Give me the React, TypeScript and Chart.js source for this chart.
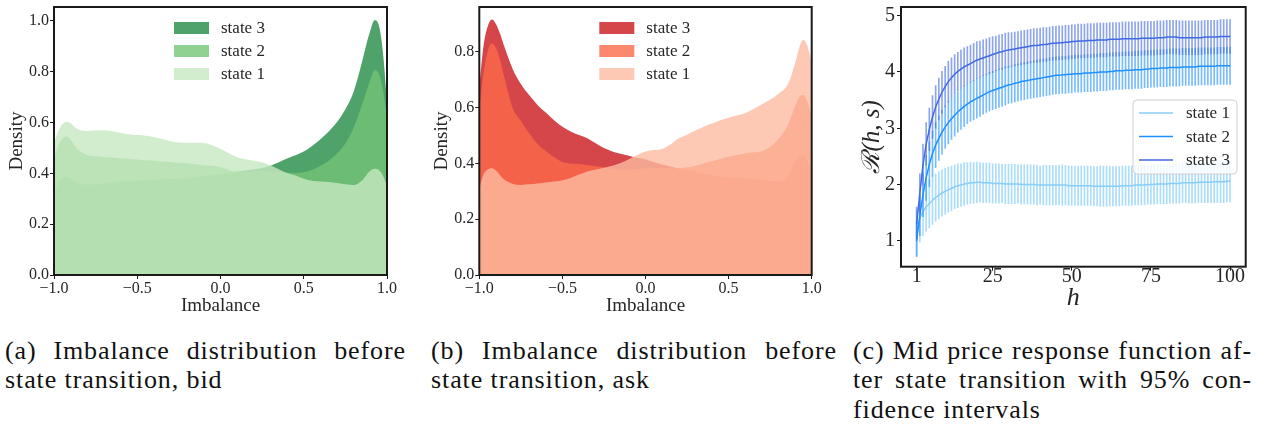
import React, { useEffect, useRef } from 'react';
import { Chart, registerables } from 'chart.js';

Chart.register(...registerables);

const FONT = "'Liberation Serif', 'DejaVu Serif', serif";
const TEXT = '#262626';

// ---------- Panels (a) and (b): imbalance densities ----------
const imbalanceX = [
  -1, -0.975, -0.95, -0.925, -0.9, -0.875, -0.85, -0.8, -0.75, -0.7, -0.65, -0.6, -0.55, -0.5,
  -0.45, -0.4, -0.35, -0.3, -0.25, -0.2, -0.15, -0.1, -0.05, 0, 0.05, 0.1, 0.15, 0.2, 0.25, 0.3,
  0.35, 0.4, 0.45, 0.5, 0.55, 0.6, 0.65, 0.7, 0.75, 0.8, 0.85, 0.875, 0.9, 0.925, 0.95, 0.975, 1,
];

const bidState1 = [
  0.52, 0.565, 0.592, 0.603, 0.597, 0.582, 0.572, 0.567, 0.569, 0.57, 0.566, 0.559, 0.554, 0.551,
  0.548, 0.543, 0.535, 0.527, 0.522, 0.521, 0.521, 0.52, 0.511, 0.497, 0.479, 0.464, 0.456, 0.45,
  0.443, 0.432, 0.416, 0.402, 0.392, 0.379, 0.371, 0.368, 0.366, 0.362, 0.357, 0.354, 0.372, 0.392,
  0.41, 0.418, 0.413, 0.392, 0.35,
];
const bidState2 = [
  0.46, 0.51, 0.537, 0.545, 0.532, 0.51, 0.49, 0.472, 0.467, 0.465, 0.463, 0.46, 0.458, 0.455,
  0.452, 0.45, 0.447, 0.445, 0.442, 0.44, 0.436, 0.432, 0.43, 0.425, 0.413, 0.405, 0.406, 0.407,
  0.407, 0.407, 0.405, 0.403, 0.402, 0.404, 0.413, 0.43, 0.45, 0.478, 0.518, 0.58, 0.67, 0.72,
  0.768, 0.806, 0.795, 0.73, 0.62,
];
const bidState3 = [
  0.32, 0.36, 0.381, 0.387, 0.38, 0.368, 0.36, 0.355, 0.357, 0.361, 0.365, 0.368, 0.369, 0.371,
  0.373, 0.375, 0.377, 0.378, 0.379, 0.381, 0.385, 0.389, 0.393, 0.397, 0.402, 0.407, 0.411, 0.415,
  0.421, 0.43, 0.444, 0.459, 0.471, 0.486, 0.508, 0.534, 0.565, 0.602, 0.652, 0.722, 0.838, 0.905,
  0.962, 1.003, 0.985, 0.88, 0.68,
];

const askState1 = [
  0.31, 0.36, 0.378, 0.383, 0.375, 0.358, 0.342, 0.327, 0.323, 0.325, 0.328, 0.332, 0.335, 0.34,
  0.348, 0.36, 0.371, 0.378, 0.385, 0.392, 0.402, 0.415, 0.43, 0.443, 0.448, 0.452, 0.468, 0.49,
  0.503, 0.518, 0.532, 0.543, 0.555, 0.564, 0.572, 0.58, 0.595, 0.612, 0.628, 0.65, 0.678, 0.71,
  0.76, 0.815, 0.844, 0.82, 0.76,
];
const askState2 = [
  0.59, 0.72, 0.8, 0.83, 0.815, 0.77, 0.71, 0.6, 0.553, 0.508, 0.47, 0.445, 0.423, 0.405,
  0.4, 0.398, 0.394, 0.39, 0.386, 0.381, 0.378, 0.377, 0.38, 0.383, 0.384, 0.384, 0.383, 0.383,
  0.386, 0.392, 0.4, 0.408, 0.416, 0.424, 0.43, 0.436, 0.44, 0.444, 0.46, 0.488, 0.53, 0.565,
  0.605, 0.638, 0.645, 0.62, 0.57,
];
const askState3 = [
  0.675, 0.82, 0.89, 0.916, 0.9, 0.865, 0.82, 0.74, 0.685, 0.645, 0.61, 0.583, 0.555, 0.532,
  0.515, 0.502, 0.49, 0.472, 0.455, 0.443, 0.435, 0.428, 0.42, 0.414, 0.405, 0.396, 0.389, 0.382,
  0.376, 0.37, 0.364, 0.358, 0.353, 0.35, 0.348, 0.346, 0.344, 0.341, 0.338, 0.336, 0.35, 0.375,
  0.405, 0.425, 0.428, 0.405, 0.365,
];

const kdeLabels = ['state 3', 'state 2', 'state 1'];
const greens = ['rgba(35,139,69,0.8)', 'rgba(116,196,118,0.8)', 'rgba(199,233,192,0.8)'];
const reds = ['rgba(203,24,29,0.8)', 'rgba(251,106,74,0.8)', 'rgba(252,187,161,0.8)'];
const imbalanceTicks = [-1, -0.5, 0, 0.5, 1];
const bidDensityTicks = [0, 0.2, 0.4, 0.6, 0.8, 1.0];
const askDensityTicks = [0, 0.2, 0.4, 0.6, 0.8];

// ---------- Panel (c): mid price response ----------
const horizons = Array.from({ length: 100 }, (_, i) => i + 1);
const horizonTicks = [1, 25, 50, 75, 100];
const responseTicks = [1, 2, 3, 4, 5];
const responseLabels = ['state 1', 'state 2', 'state 3'];

const respState1 = [
  1.15, 1.40, 1.52, 1.60, 1.66, 1.72, 1.77, 1.81, 1.85, 1.88,
  1.91, 1.93, 1.96, 1.98, 1.99, 2.01, 2.02, 2.03, 2.03, 2.04,
  2.04, 2.03, 2.03, 2.03, 2.02, 2.02, 2.02, 2.02, 2.01, 2.01,
  2.01, 2.01, 2.01, 2.00, 2.00, 2.00, 2.00, 2.00, 1.99, 1.99,
  1.99, 1.99, 1.99, 1.99, 1.99, 1.99, 1.99, 1.99, 1.98, 1.98,
  1.98, 1.98, 1.98, 1.98, 1.98, 1.98, 1.97, 1.97, 1.97, 1.97,
  1.97, 1.97, 1.97, 1.97, 1.97, 1.98, 1.98, 1.98, 1.98, 1.99,
  1.99, 1.99, 1.99, 2.00, 2.00, 2.00, 2.01, 2.01, 2.01, 2.01,
  2.02, 2.02, 2.02, 2.02, 2.03, 2.03, 2.03, 2.03, 2.03, 2.04,
  2.04, 2.04, 2.04, 2.04, 2.05, 2.05, 2.05, 2.05, 2.06, 2.06,
];
const respErr1 = [
  0.41, 0.42, 0.43, 0.43, 0.43, 0.43, 0.42, 0.42, 0.41, 0.41,
  0.40, 0.40, 0.39, 0.39, 0.38, 0.38, 0.37, 0.37, 0.36, 0.36,
  0.35, 0.35, 0.35, 0.35, 0.35, 0.35, 0.35, 0.34, 0.35, 0.35,
  0.35, 0.35, 0.34, 0.35, 0.35, 0.35, 0.35, 0.35, 0.35, 0.34,
  0.35, 0.35, 0.35, 0.35, 0.35, 0.35, 0.36, 0.35, 0.35, 0.35,
  0.35, 0.35, 0.35, 0.35, 0.35, 0.35, 0.35, 0.35, 0.36, 0.36,
  0.36, 0.35, 0.35, 0.35, 0.35, 0.35, 0.35, 0.35, 0.35, 0.35,
  0.35, 0.35, 0.35, 0.35, 0.35, 0.35, 0.35, 0.35, 0.35, 0.35,
  0.35, 0.35, 0.35, 0.35, 0.35, 0.35, 0.36, 0.36, 0.36, 0.36,
  0.36, 0.36, 0.36, 0.36, 0.37, 0.37, 0.37, 0.37, 0.37, 0.37,
];
const respState2 = [
  1.02, 1.45, 1.82, 2.12, 2.36, 2.55, 2.70, 2.82, 2.93, 3.02,
  3.10, 3.17, 3.23, 3.29, 3.34, 3.39, 3.43, 3.47, 3.50, 3.53,
  3.56, 3.59, 3.62, 3.65, 3.67, 3.69, 3.71, 3.73, 3.75, 3.77,
  3.78, 3.80, 3.81, 3.83, 3.84, 3.85, 3.86, 3.87, 3.88, 3.89,
  3.90, 3.91, 3.92, 3.93, 3.94, 3.94, 3.95, 3.95, 3.96, 3.96,
  3.97, 3.97, 3.97, 3.98, 3.98, 3.98, 3.99, 3.99, 4.00, 4.00,
  4.00, 4.01, 4.01, 4.02, 4.02, 4.02, 4.03, 4.03, 4.03, 4.04,
  4.04, 4.04, 4.05, 4.05, 4.06, 4.06, 4.06, 4.07, 4.07, 4.07,
  4.08, 4.08, 4.08, 4.08, 4.09, 4.09, 4.09, 4.09, 4.09, 4.10,
  4.10, 4.10, 4.10, 4.10, 4.10, 4.11, 4.11, 4.11, 4.11, 4.11,
];
const respErr2 = [
  0.30, 0.36, 0.39, 0.40, 0.40, 0.40, 0.40, 0.39, 0.39, 0.38,
  0.38, 0.37, 0.37, 0.36, 0.36, 0.36, 0.35, 0.35, 0.35, 0.35,
  0.35, 0.34, 0.34, 0.34, 0.34, 0.34, 0.34, 0.34, 0.34, 0.33,
  0.33, 0.33, 0.33, 0.33, 0.33, 0.33, 0.33, 0.33, 0.33, 0.33,
  0.33, 0.33, 0.33, 0.33, 0.33, 0.33, 0.33, 0.33, 0.33, 0.33,
  0.33, 0.33, 0.33, 0.33, 0.33, 0.33, 0.33, 0.33, 0.33, 0.33,
  0.33, 0.33, 0.33, 0.33, 0.33, 0.33, 0.33, 0.33, 0.33, 0.33,
  0.33, 0.33, 0.33, 0.33, 0.33, 0.33, 0.33, 0.33, 0.33, 0.33,
  0.33, 0.33, 0.33, 0.33, 0.33, 0.33, 0.33, 0.33, 0.33, 0.33,
  0.33, 0.33, 0.33, 0.33, 0.33, 0.33, 0.33, 0.33, 0.33, 0.33,
];
const respState3 = [
  1.30, 1.85, 2.35, 2.72, 2.98, 3.20, 3.38, 3.52, 3.64, 3.74,
  3.83, 3.90, 3.96, 4.01, 4.05, 4.09, 4.12, 4.15, 4.18, 4.21,
  4.23, 4.25, 4.27, 4.29, 4.31, 4.33, 4.35, 4.36, 4.38, 4.39,
  4.40, 4.41, 4.42, 4.43, 4.44, 4.45, 4.46, 4.47, 4.47, 4.48,
  4.49, 4.49, 4.50, 4.51, 4.51, 4.52, 4.52, 4.53, 4.53, 4.54,
  4.54, 4.55, 4.55, 4.55, 4.56, 4.56, 4.56, 4.57, 4.57, 4.57,
  4.57, 4.58, 4.58, 4.58, 4.58, 4.59, 4.59, 4.59, 4.59, 4.59,
  4.59, 4.60, 4.60, 4.60, 4.60, 4.60, 4.61, 4.61, 4.61, 4.62,
  4.62, 4.62, 4.62, 4.61, 4.61, 4.61, 4.61, 4.61, 4.61, 4.61,
  4.61, 4.62, 4.62, 4.62, 4.62, 4.62, 4.63, 4.63, 4.63, 4.63,
];
const respErr3 = [
  0.30, 0.34, 0.37, 0.38, 0.38, 0.38, 0.38, 0.37, 0.37, 0.36,
  0.36, 0.35, 0.35, 0.34, 0.34, 0.34, 0.33, 0.33, 0.33, 0.33,
  0.32, 0.32, 0.32, 0.32, 0.32, 0.31, 0.31, 0.31, 0.31, 0.31,
  0.30, 0.30, 0.30, 0.30, 0.30, 0.30, 0.30, 0.30, 0.30, 0.30,
  0.30, 0.30, 0.30, 0.30, 0.30, 0.30, 0.30, 0.30, 0.30, 0.30,
  0.30, 0.30, 0.30, 0.30, 0.30, 0.30, 0.30, 0.30, 0.30, 0.30,
  0.30, 0.30, 0.30, 0.30, 0.30, 0.30, 0.30, 0.30, 0.30, 0.30,
  0.30, 0.30, 0.30, 0.30, 0.30, 0.30, 0.30, 0.30, 0.30, 0.30,
  0.30, 0.30, 0.30, 0.30, 0.30, 0.30, 0.30, 0.30, 0.30, 0.30,
  0.30, 0.30, 0.30, 0.30, 0.30, 0.30, 0.30, 0.30, 0.30, 0.30,
];
const respMeans = [respState1, respState2, respState3];
const respErrs = [respErr1, respErr2, respErr3];
const lineColors = ['#87cefa', '#1e90ff', '#4169e1'];
const barColors = ['rgba(135,206,250,0.7)', 'rgba(30,144,255,0.6)', 'rgba(65,105,225,0.6)'];

// ---------- helpers ----------
const fmtSigned = (v: number) => {
  const s = Math.abs(v).toFixed(1);
  return v < -1e-9 ? '\u2212' + s : s;
};

const framePlugin = {
  id: 'frame',
  afterDraw(chart: any) {
    const { ctx, chartArea: a } = chart;
    ctx.save();
    ctx.strokeStyle = '#1a1a1a';
    ctx.lineWidth = 2;
    ctx.strokeRect(a.left, a.top, a.right - a.left, a.bottom - a.top);
    ctx.restore();
  },
};

const patchLegendPlugin = {
  id: 'patchLegend',
  afterDraw(chart: any) {
    const { ctx, chartArea: a } = chart;
    const x0 = a.left + 120;
    ctx.save();
    ctx.font = `17px ${FONT}`;
    ctx.textBaseline = 'middle';
    chart.data.datasets.forEach((ds: any, i: number) => {
      const cy = a.top + 21 + i * 23;
      ctx.fillStyle = '#ffffff';
      ctx.fillRect(x0, cy - 6, 35, 12);
      ctx.fillStyle = ds.backgroundColor;
      ctx.fillRect(x0, cy - 6, 35, 12);
      ctx.fillStyle = TEXT;
      ctx.fillText(ds.label, x0 + 47, cy + 1);
    });
    ctx.restore();
  },
};

const lineLegendPlugin = {
  id: 'lineLegend',
  afterDraw(chart: any) {
    const { ctx, chartArea: a } = chart;
    const bx = a.left + 232;
    const by = a.top + 93;
    const bw = 104;
    const bh = 74;
    ctx.save();
    ctx.beginPath();
    const r = 4;
    ctx.moveTo(bx + r, by);
    ctx.lineTo(bx + bw - r, by);
    ctx.arcTo(bx + bw, by, bx + bw, by + r, r);
    ctx.lineTo(bx + bw, by + bh - r);
    ctx.arcTo(bx + bw, by + bh, bx + bw - r, by + bh, r);
    ctx.lineTo(bx + r, by + bh);
    ctx.arcTo(bx, by + bh, bx, by + bh - r, r);
    ctx.lineTo(bx, by + r);
    ctx.arcTo(bx, by, bx + r, by, r);
    ctx.closePath();
    ctx.fillStyle = 'rgba(255,255,255,0.8)';
    ctx.fill();
    ctx.strokeStyle = '#d0d0d0';
    ctx.lineWidth = 1;
    ctx.stroke();
    ctx.font = `17px ${FONT}`;
    ctx.textBaseline = 'middle';
    const lines = chart.data.datasets.filter((d: any) => d.type === 'line');
    lines.forEach((ds: any, i: number) => {
      const cy = by + 13 + i * 23.5;
      ctx.strokeStyle = ds.borderColor;
      ctx.lineWidth = 1.5;
      ctx.beginPath();
      ctx.moveTo(bx + 6, cy);
      ctx.lineTo(bx + 40, cy);
      ctx.stroke();
      ctx.fillStyle = TEXT;
      ctx.fillText(ds.label, bx + 53, cy + 1);
    });
    ctx.restore();
  },
};

function kdeConfig(series: number[][], colors: string[], yMax: number, yTicks: number[], axisWidth: number, titlePad: number, rightPad: number): any {
  return {
    type: 'line',
    data: {
      datasets: kdeLabels.map((label, i) => ({
        label,
        data: imbalanceX.map((x, j) => ({ x, y: series[i][j] })),
        backgroundColor: colors[i],
        borderColor: colors[i],
        borderWidth: 0,
        fill: 'origin',
        pointRadius: 0,
        tension: 0.4,
        cubicInterpolationMode: 'monotone',
        order: 3 - i,
      })),
    },
    options: {
      animation: false,
      responsive: false,
      devicePixelRatio: 1,
      layout: { padding: { left: 0, top: 7, right: rightPad, bottom: 0 } },
      plugins: { legend: { display: false }, tooltip: { enabled: false } },
      scales: {
        x: {
          type: 'linear',
          min: -1,
          max: 1,
          afterBuildTicks: (axis: any) => {
            axis.ticks = imbalanceTicks.map((v) => ({ value: v }));
          },
          afterFit: (s: any) => {
            s.height = 45;
            s.paddingLeft = 0;
            s.paddingRight = 0;
          },
          ticks: {
            callback: (v: number) => fmtSigned(v),
            font: { family: FONT, size: 16 },
            color: TEXT,
            padding: 0,
            maxRotation: 0,
            autoSkip: false,
          },
          grid: { display: true, drawOnChartArea: false, drawTicks: true, tickLength: 4, color: '#1a1a1a' },
          border: { display: false },
          title: { display: true, text: 'Imbalance', font: { family: FONT, size: 19 }, color: TEXT, padding: { top: 0, bottom: 3 } },
        },
        y: {
          type: 'linear',
          min: 0,
          max: yMax,
          afterBuildTicks: (axis: any) => {
            axis.ticks = yTicks.map((v) => ({ value: v }));
          },
          afterFit: (s: any) => {
            s.width = axisWidth;
            s.paddingTop = 0;
            s.paddingBottom = 0;
          },
          ticks: {
            callback: (v: number) => fmtSigned(v),
            font: { family: FONT, size: 16 },
            color: TEXT,
            padding: 1,
            autoSkip: false,
          },
          grid: { display: true, drawOnChartArea: false, drawTicks: true, tickLength: 4, color: '#1a1a1a' },
          border: { display: false },
          title: { display: true, text: 'Density', font: { family: FONT, size: 19 }, color: TEXT, padding: { top: titlePad, bottom: 0 } },
        },
      },
    },
    plugins: [framePlugin, patchLegendPlugin],
  };
}

function responseConfig(): any {
  const datasets: any[] = [];
  responseLabels.forEach((label, i) => {
    datasets.push({
      type: 'bar',
      label: label + ' CI',
      data: horizons.map((h, j) => ({ x: h, y: [respMeans[i][j] - respErrs[i][j], respMeans[i][j] + respErrs[i][j]] })),
      backgroundColor: barColors[i],
      borderWidth: 0,
      barThickness: 1,
      grouped: false,
      order: 6 - 2 * i,
    });
    datasets.push({
      type: 'line',
      label,
      data: horizons.map((h, j) => ({ x: h, y: respMeans[i][j] })),
      borderColor: lineColors[i],
      backgroundColor: lineColors[i],
      borderWidth: 1.5,
      pointRadius: 0,
      fill: false,
      tension: 0,
      order: 5 - 2 * i,
    });
  });
  return {
    type: 'line',
    data: { datasets },
    options: {
      animation: false,
      responsive: false,
      devicePixelRatio: 1,
      layout: { padding: { left: 0, top: 7, right: 15.3, bottom: 0 } },
      plugins: { legend: { display: false }, tooltip: { enabled: false } },
      scales: {
        x: {
          type: 'linear',
          min: -3.95,
          max: 104.95,
          offset: false,
          afterBuildTicks: (axis: any) => {
            axis.ticks = horizonTicks.map((v) => ({ value: v }));
          },
          afterFit: (s: any) => {
            s.height = 53.3;
            s.paddingLeft = 0;
            s.paddingRight = 0;
          },
          ticks: { font: { family: FONT, size: 20 }, color: TEXT, padding: -6, maxRotation: 0, autoSkip: false },
          grid: { display: true, drawOnChartArea: false, drawTicks: true, tickLength: 4, color: '#1a1a1a', offset: false },
          border: { display: false },
          title: { display: true, text: 'h', font: { family: FONT, size: 26, style: 'italic' }, color: TEXT, padding: { top: 0, bottom: 6 } },
        },
        y: {
          type: 'linear',
          min: 0.54,
          max: 5.155,
          beginAtZero: false,
          afterBuildTicks: (axis: any) => {
            axis.ticks = responseTicks.map((v) => ({ value: v }));
          },
          afterFit: (s: any) => {
            s.width = 61;
            s.paddingTop = 0;
            s.paddingBottom = 0;
          },
          ticks: { font: { family: FONT, size: 20 }, color: TEXT, padding: 2, autoSkip: false },
          grid: { display: true, drawOnChartArea: false, drawTicks: true, tickLength: 4, color: '#1a1a1a' },
          border: { display: false },
          title: { display: true, text: '\u211B(h, s)', font: { family: FONT, size: 25, style: 'italic' }, color: TEXT, padding: { top: 17, bottom: 0 } },
        },
      },
    },
    plugins: [framePlugin, lineLegendPlugin],
  };
}

const captionStyle: React.CSSProperties = {
  position: 'absolute',
  fontFamily: FONT,
  fontSize: 26,
  lineHeight: '29.5px',
  color: '#111',
  whiteSpace: 'nowrap',
  letterSpacing: '0.9px',
};

function Caption({ left, width, lines }: { left: number; width: number; lines: string[] }) {
  return (
    <div style={{ ...captionStyle, left, top: 335.5, width }}>
      {lines.map((t, i) => (
        <div
          key={i}
          style={{
            textAlign: i < lines.length - 1 ? 'justify' : 'left',
            textAlignLast: i < lines.length - 1 ? 'justify' : 'left',
            whiteSpace: 'normal',
          } as React.CSSProperties}
        >
          {t}
        </div>
      ))}
    </div>
  );
}

export default function App() {
  const refA = useRef<HTMLCanvasElement>(null);
  const refB = useRef<HTMLCanvasElement>(null);
  const refC = useRef<HTMLCanvasElement>(null);

  useEffect(() => {
    const charts = [
      new Chart(refA.current as HTMLCanvasElement, kdeConfig([bidState3, bidState2, bidState1], greens, 1.055, bidDensityTicks, 54, 6, 33)),
      new Chart(refB.current as HTMLCanvasElement, kdeConfig([askState3, askState2, askState1], reds, 0.961, askDensityTicks, 59.3, 11, 28.3)),
      new Chart(refC.current as HTMLCanvasElement, responseConfig()),
    ];
    return () => charts.forEach((c) => c.destroy());
  }, []);

  return (
    <div style={{ position: 'fixed', left: 0, top: 0, width: 1261, height: 430, background: '#fff', overflow: 'hidden' }}>
      <canvas ref={refA} width={420} height={320} style={{ position: 'absolute', left: 0, top: 0, width: 420, height: 320 }} />
      <canvas ref={refB} width={420} height={320} style={{ position: 'absolute', left: 420, top: 0, width: 420, height: 320 }} />
      <canvas ref={refC} width={421} height={320} style={{ position: 'absolute', left: 840, top: 0, width: 421, height: 320 }} />
      <Caption left={5} width={401} lines={['(a) Imbalance distribution before', 'state transition, bid']} />
      <Caption left={431} width={406} lines={['(b) Imbalance distribution before', 'state transition, ask']} />
      <Caption left={853} width={399} lines={['(c) Mid price response function af-', 'ter state transition with 95% con-', 'fidence intervals']} />
    </div>
  );
}
